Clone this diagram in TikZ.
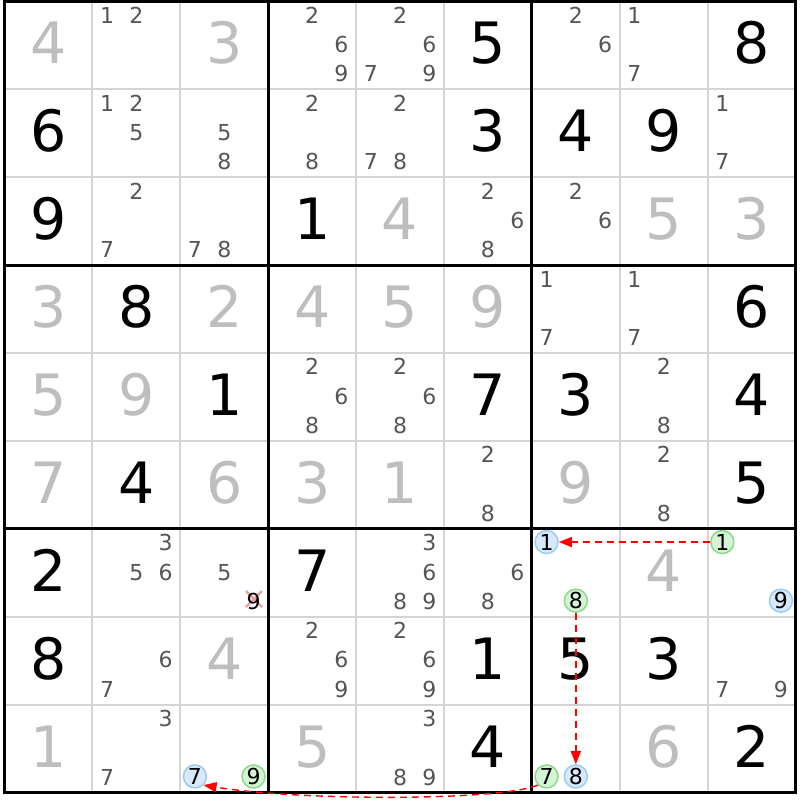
\documentclass[tikz,border=0pt]{standalone}
\usepackage{fontspec}
\setmainfont{DejaVu Sans}
\usetikzlibrary{arrows.meta}
\definecolor{givengray}{HTML}{BEBEBE}
\definecolor{candgray}{HTML}{555555}
\definecolor{thingrid}{HTML}{D4D4D4}
\definecolor{bluefill}{HTML}{D7E9FB}
\definecolor{blueline}{HTML}{9CCBF4}
\definecolor{greenfill}{HTML}{D5F3D5}
\definecolor{greenline}{HTML}{8CD98C}
\definecolor{crossred}{HTML}{F39A9A}
\tikzset{
  givendigit/.style={text=givengray, font=\fontsize{57}{57}\selectfont, anchor=base, inner sep=0pt},
  solveddigit/.style={text=black, font=\fontsize{57}{57}\selectfont, anchor=base, inner sep=0pt},
  canddigit/.style={text=candgray, font=\fontsize{22}{22}\selectfont, anchor=base, inner sep=0pt},
  bluecand/.style={circle, draw=blueline, fill=bluefill, line width=1.5pt, minimum size=23pt, inner sep=0pt, text=black, font=\fontsize{22}{22}\selectfont},
  greencand/.style={circle, draw=greenline, fill=greenfill, line width=1.5pt, minimum size=23pt, inner sep=0pt, text=black, font=\fontsize{22}{22}\selectfont},
  thingridline/.style={draw=thingrid, line width=2pt},
  thickgridline/.style={draw=black, line width=3pt},
  chainarrow/.style={draw=red, line width=1.4pt, dash pattern=on 7pt off 5pt, -{Triangle[length=13pt,width=10pt]}},
  crossmark/.style={draw=crossred, line width=2.2pt}
}
\newcommand\GivenD[3]{%
  \pgfmathsetmacro\myX{4.5+(#2-0.5)*87.9}%
  \pgfmathsetmacro\myY{1.5+(#1-0.5)*87.9+18.5}%
  \node[givendigit] (v#1#2) at (\myX,\myY) {#3};}
\newcommand\SolvedD[3]{%
  \pgfmathsetmacro\myX{4.5+(#2-0.5)*87.9}%
  \pgfmathsetmacro\myY{1.5+(#1-0.5)*87.9+18.5}%
  \node[solveddigit] (v#1#2) at (\myX,\myY) {#3};}
\newcommand\CandD[4][]{%
  \pgfmathtruncatemacro\mySR{div(#4-1,3)}%
  \pgfmathtruncatemacro\mySC{mod(#4-1,3)}%
  \pgfmathsetmacro\myX{4.5+(#3-1)*87.9+14.65+\mySC*29.3}%
  \pgfmathsetmacro\myY{1.5+(#2-1)*87.9+14.65+\mySR*29.3+7.2}%
  \node[canddigit,#1] (c#2#3#4) at (\myX,\myY) {#4};}
\newcommand\Cands[3]{\foreach \dd in {#3}{\CandD{#1}{#2}{\dd}}}
\newcommand\CircD[5]{%
  \pgfmathtruncatemacro\mySR{div(#3-1,3)}%
  \pgfmathtruncatemacro\mySC{mod(#3-1,3)}%
  \pgfmathsetmacro\myX{4.5+(#2-1)*87.9+14.65+\mySC*29.3}%
  \pgfmathsetmacro\myY{1.5+(#1-1)*87.9+14.65+\mySR*29.3-1.5}%
  \node[#4] (#5) at (\myX,\myY) {#3};}
\begin{document}
\begin{tikzpicture}[x=1pt,y=-1pt]
\useasboundingbox (0,0) rectangle (800,800);
\fill[white] (0,0) rectangle (800,800);
% thin grid lines
\foreach \i in {1,2,4,5,7,8}{
  \draw[thingridline] ({4.5+\i*87.9},1.5) -- ({4.5+\i*87.9},792.6);
  \draw[thingridline] (4.5,{1.5+\i*87.9}) -- (795.6,{1.5+\i*87.9});
}
% thick grid lines
\foreach \i in {3,6}{
  \draw[thickgridline] ({4.5+\i*87.9},1.5) -- ({4.5+\i*87.9},792.6);
  \draw[thickgridline] (4.5,{1.5+\i*87.9}) -- (795.6,{1.5+\i*87.9});
}
\draw[thickgridline] (4.5,1.5) rectangle (795.6,792.6);
% given digits
\GivenD{1}{1}{4}\GivenD{1}{3}{3}
\GivenD{3}{5}{4}\GivenD{3}{8}{5}\GivenD{3}{9}{3}
\GivenD{4}{1}{3}\GivenD{4}{3}{2}\GivenD{4}{4}{4}\GivenD{4}{5}{5}\GivenD{4}{6}{9}
\GivenD{5}{1}{5}\GivenD{5}{2}{9}
\GivenD{6}{1}{7}\GivenD{6}{3}{6}\GivenD{6}{4}{3}\GivenD{6}{5}{1}\GivenD{6}{7}{9}
\GivenD{7}{8}{4}
\GivenD{8}{3}{4}
\GivenD{9}{1}{1}\GivenD{9}{4}{5}\GivenD{9}{8}{6}
% solved digits
\SolvedD{1}{6}{5}\SolvedD{1}{9}{8}
\SolvedD{2}{1}{6}\SolvedD{2}{6}{3}\SolvedD{2}{7}{4}\SolvedD{2}{8}{9}
\SolvedD{3}{1}{9}\SolvedD{3}{4}{1}
\SolvedD{4}{2}{8}\SolvedD{4}{9}{6}
\SolvedD{5}{3}{1}\SolvedD{5}{6}{7}\SolvedD{5}{7}{3}\SolvedD{5}{9}{4}
\SolvedD{6}{2}{4}\SolvedD{6}{9}{5}
\SolvedD{7}{1}{2}\SolvedD{7}{4}{7}
\SolvedD{8}{1}{8}\SolvedD{8}{6}{1}\SolvedD{8}{7}{5}\SolvedD{8}{8}{3}
\SolvedD{9}{6}{4}\SolvedD{9}{9}{2}
% candidates
\Cands{1}{2}{1,2}\Cands{1}{4}{2,6,9}\Cands{1}{5}{2,6,7,9}\Cands{1}{7}{2,6}\Cands{1}{8}{1,7}
\Cands{2}{2}{1,2,5}\Cands{2}{3}{5,8}\Cands{2}{4}{2,8}\Cands{2}{5}{2,7,8}\Cands{2}{9}{1,7}
\Cands{3}{2}{2,7}\Cands{3}{3}{7,8}\Cands{3}{6}{2,6,8}\Cands{3}{7}{2,6}
\Cands{4}{7}{1,7}\Cands{4}{8}{1,7}
\Cands{5}{4}{2,6,8}\Cands{5}{5}{2,6,8}\Cands{5}{8}{2,8}
\Cands{6}{6}{2,8}\Cands{6}{8}{2,8}
\Cands{7}{2}{3,5,6}\Cands{7}{3}{5}\Cands{7}{5}{3,6,8,9}\Cands{7}{6}{6,8}
\Cands{8}{2}{6,7}\Cands{8}{4}{2,6,9}\Cands{8}{5}{2,6,9}\Cands{8}{9}{7,9}
\Cands{9}{2}{3,7}\Cands{9}{5}{3,8,9}
% eliminated candidate
\draw[crossmark] (246,591) -- (262,607) (246,607) -- (262,591);
\CandD[text=black]{7}{3}{9}
% highlighted candidates
\CircD{7}{7}{1}{bluecand}{b1}
\CircD{7}{7}{8}{greencand}{g8}
\CircD{7}{9}{1}{greencand}{g1}
\CircD{7}{9}{9}{bluecand}{b9}
\CircD{9}{3}{7}{bluecand}{b7}
\CircD{9}{3}{9}{greencand}{g9}
\CircD{9}{7}{7}{greencand}{g7}
\CircD{9}{7}{8}{bluecand}{b8}
% chain links
\draw[chainarrow] (g1) -- (b1);
\draw[chainarrow] (g8) -- (b8);
\draw[chainarrow] (g7.-135) .. controls (500,801) and (300,801) .. (b7.-45);
\end{tikzpicture}
\end{document}
